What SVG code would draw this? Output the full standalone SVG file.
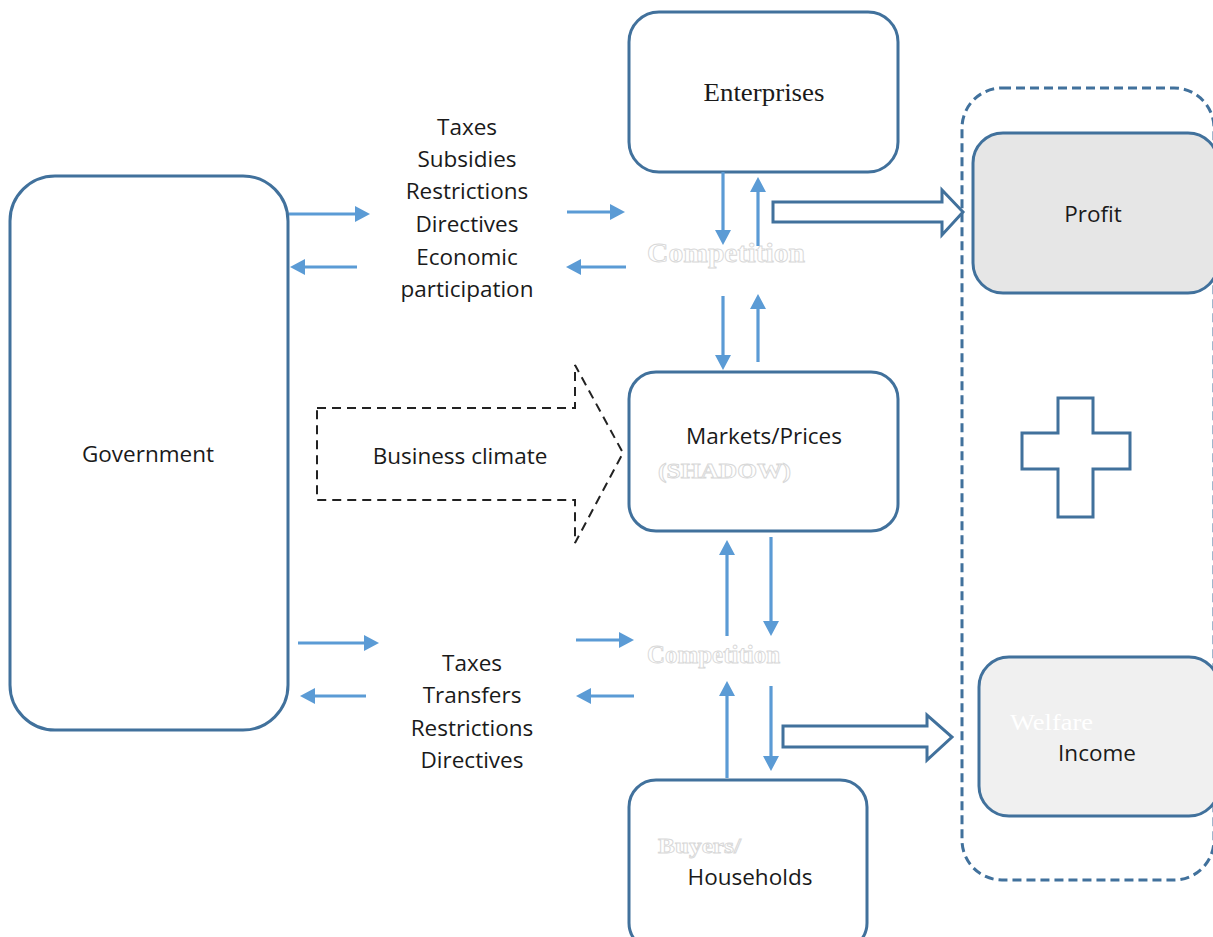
<svg xmlns="http://www.w3.org/2000/svg" width="1213" height="937" viewBox="0 0 1213 937">
<style>
.box{fill:#ffffff;stroke:#41719c;stroke-width:3}
.grey1{fill:#e6e6e6;stroke:#41719c;stroke-width:3}
.grey2{fill:#f0f0f0;stroke:#41719c;stroke-width:3}
.lbl{font-family:"Open Sans","Liberation Sans",sans-serif;font-size:22.5px;fill:#1a1a1a;text-anchor:middle}
.serif{font-family:"Liberation Serif","Times New Roman",serif;font-size:26px;fill:#1a1a1a;text-anchor:middle}
.ghost{font-family:"Liberation Serif","Times New Roman",serif;font-weight:bold;fill:#ffffff;stroke:#d8d8d8;stroke-width:0.9}
.ghost2{font-family:"Liberation Serif","Times New Roman",serif;fill:#ffffff}
.arr{stroke:#5b9bd5;stroke-width:3.2;fill:none;marker-end:url(#ah)}
.block{fill:#ffffff;stroke:#41719c;stroke-width:3;stroke-linejoin:miter}
</style>
<defs>
<marker id="ah" markerUnits="userSpaceOnUse" markerWidth="18" markerHeight="18" refX="4" refY="8" orient="auto">
<path d="M0,0 L15,8 L0,16 z" fill="#5b9bd5"/>
</marker>
</defs>
<rect width="1213" height="937" fill="#ffffff"/>

<g id="results-container">
<rect x="962" y="88" width="252" height="792" rx="40" fill="none" stroke="#41719c" stroke-width="3" stroke-dasharray="9,5"/>
</g>

<g id="government">
<rect class="box" x="10" y="176" width="278" height="554" rx="45"/>
<text class="lbl" x="148" y="462">Government</text>
</g>

<g id="enterprises">
<rect class="box" x="629" y="12" width="269" height="160" rx="30"/>
<text class="serif" x="764" y="101" textLength="121" lengthAdjust="spacingAndGlyphs">Enterprises</text>
</g>

<g id="markets">
<rect class="box" x="629" y="372" width="269" height="159" rx="27"/>
<text class="lbl" x="764" y="444">Markets/Prices</text>
<text class="ghost" x="658" y="478" font-size="22" textLength="133" lengthAdjust="spacingAndGlyphs">(SHADOW)</text>
</g>

<g id="households">
<rect class="box" x="629" y="780" width="238" height="170" rx="27"/>
<text class="ghost" x="658" y="853" font-size="22" textLength="83" lengthAdjust="spacingAndGlyphs">Buyers/</text>
<text class="lbl" x="750" y="885">Households</text>
</g>

<g id="profit">
<rect class="grey1" x="973" y="133" width="245" height="160" rx="30"/>
<text class="lbl" x="1093" y="222">Profit</text>
</g>

<g id="income">
<rect class="grey2" x="979" y="657" width="240" height="159" rx="30"/>
<text class="ghost2" x="1010" y="730" font-size="24" textLength="83" lengthAdjust="spacingAndGlyphs">Welfare</text>
<text class="lbl" x="1097" y="761">Income</text>
</g>

<g id="plus">
<path class="block" d="M1058,398 L1093,398 L1093,433 L1130,433 L1130,469 L1093,469 L1093,517 L1058,517 L1058,469 L1022,469 L1022,433 L1058,433 Z"/>
</g>

<g id="business-climate">
<path d="M317,408 L575,408 L575,365 L623,453 L575,543 L575,500 L317,500 Z" fill="none" stroke="#222222" stroke-width="2" stroke-dasharray="9,6"/>
<text class="lbl" x="460" y="464">Business climate</text>
</g>

<g id="policy-top">
<text class="lbl" x="467" y="135">Taxes</text>
<text class="lbl" x="467" y="167">Subsidies</text>
<text class="lbl" x="467" y="199">Restrictions</text>
<text class="lbl" x="467" y="232">Directives</text>
<text class="lbl" x="467" y="265">Economic</text>
<text class="lbl" x="467" y="297">participation</text>
</g>

<g id="policy-bottom">
<text class="lbl" x="472" y="671">Taxes</text>
<text class="lbl" x="472" y="703">Transfers</text>
<text class="lbl" x="472" y="736">Restrictions</text>
<text class="lbl" x="472" y="768">Directives</text>
</g>

<g id="competition-labels">
<text class="ghost" x="647" y="262" font-size="28" textLength="158" lengthAdjust="spacingAndGlyphs">Competition</text>
<text class="ghost" x="647" y="663" font-size="25" textLength="133" lengthAdjust="spacingAndGlyphs">Competition</text>
</g>

<g id="connectors">
<line class="arr" x1="289" y1="214" x2="359" y2="214"/>
<line class="arr" x1="357" y1="267" x2="301" y2="267"/>
<line class="arr" x1="567" y1="212" x2="614" y2="212"/>
<line class="arr" x1="626" y1="267" x2="577" y2="267"/>

<line class="arr" x1="723" y1="172" x2="723" y2="234"/>
<line class="arr" x1="758" y1="246" x2="758" y2="188"/>
<line class="arr" x1="723" y1="296" x2="723" y2="359"/>
<line class="arr" x1="758" y1="362" x2="758" y2="305"/>

<line class="arr" x1="727" y1="636" x2="727" y2="551"/>
<line class="arr" x1="771" y1="537" x2="771" y2="625"/>
<line class="arr" x1="727" y1="778" x2="727" y2="692"/>
<line class="arr" x1="771" y1="686" x2="771" y2="760"/>

<line class="arr" x1="298" y1="643" x2="368" y2="643"/>
<line class="arr" x1="366" y1="696" x2="311" y2="696"/>
<line class="arr" x1="576" y1="640" x2="623" y2="640"/>
<line class="arr" x1="634" y1="696" x2="587" y2="696"/>

<path class="block" d="M773,202 L942,202 L942,190 L963,212 L942,235 L942,222 L773,222 Z"/>
<path class="block" d="M783,726 L927,726 L927,715 L952,737 L927,760 L927,747 L783,747 Z"/>
</g>
</svg>
